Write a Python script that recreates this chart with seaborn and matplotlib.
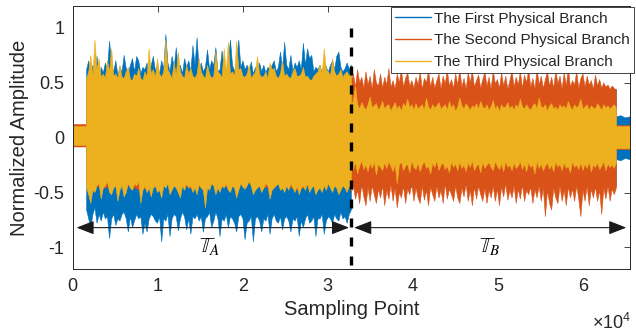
import numpy as np
import pandas as pd
import matplotlib
matplotlib.use("Agg")
import matplotlib.pyplot as plt
import seaborn as sns
from matplotlib.lines import Line2D

# ---------------------------------------------------------------------------
# Data: sample indices that delimit the four regimes of the recording
# (idle lead-in, interval T_A, interval T_B, idle tail)
segment_edges = [0, 1640, 32768, 63930, 65536]

branch_names = ["The First Physical Branch",
                "The Second Physical Branch",
                "The Third Physical Branch"]

# Upper / lower amplitude envelopes of every branch, one list per regime
# --- first branch
b1_hi_lead = [0.07, 0.08, 0.07]
b1_lo_lead = [-0.06, -0.07, -0.06]
b1_hi_a = [0.62, 0.70, 0.58, 0.66, 0.60, 0.74, 0.56, 0.64, 0.59, 0.68, 0.62, 0.88, 0.66, 0.60, 0.70, 0.57,
           0.64, 0.60, 0.75, 0.63, 0.58, 0.66, 0.72, 0.60, 0.74, 0.70, 0.58, 0.64, 0.62, 0.68, 0.60, 0.66,
           0.74, 0.61, 0.66, 0.58, 0.70, 0.63, 0.94, 0.68, 0.60, 0.74, 0.64, 0.82, 0.62, 0.66, 0.58, 0.72,
           0.64, 0.70, 0.60, 0.84, 0.66, 0.91, 0.62, 0.68, 0.60, 0.64, 0.80, 0.62, 0.70, 0.66, 0.82, 0.60,
           0.62, 0.79, 0.64, 0.60, 0.70, 0.89, 0.66, 0.60, 0.72, 0.89, 0.64, 0.70, 0.62, 0.66, 0.60, 0.69,
           0.58, 0.64, 0.62, 0.68, 0.60, 0.66, 0.59, 0.64, 0.62, 0.66, 0.70, 0.60, 0.64, 0.78, 0.62, 0.87,
           0.66, 0.62, 0.75, 0.60, 0.68, 0.64, 0.70, 0.62, 0.86, 0.66, 0.81, 0.72, 0.75, 0.60, 0.64, 0.62,
           0.66, 0.58, 0.69, 0.64, 0.60, 0.66, 0.70, 0.62, 0.74, 0.78, 0.64, 0.60, 0.63, 0.68, 0.62, 0.66]
b1_lo_a = [-0.66, -0.74, -0.82, -0.70, -0.64, -0.78, -0.70, -0.76, -0.68, -0.74, -0.72, -0.92, -0.74, -0.70, -0.80, -0.74,
           -0.76, -0.70, -0.68, -0.74, -0.86, -0.72, -0.82, -0.76, -0.70, -0.74, -0.72, -0.88, -0.78, -0.86, -0.74, -0.70,
           -0.72, -0.76, -0.78, -0.72, -0.95, -0.74, -0.76, -0.70, -0.90, -0.74, -0.70, -0.72, -0.85, -0.74, -0.68, -0.72,
           -0.84, -0.74, -0.88, -0.72, -0.74, -0.70, -0.76, -0.72, -0.86, -0.74, -0.72, -0.68, -0.82, -0.76, -0.68, -0.74,
           -0.90, -0.74, -0.76, -0.70, -0.82, -0.72, -0.74, -0.78, -0.86, -0.72, -0.70, -0.74, -0.93, -0.78, -0.76, -0.72,
           -0.95, -0.74, -0.72, -0.76, -0.86, -0.74, -0.76, -0.70, -0.88, -0.74, -0.70, -0.76, -0.78, -0.72, -0.84, -0.74,
           -0.72, -0.76, -0.86, -0.74, -0.76, -0.72, -0.90, -0.76, -0.82, -0.74, -0.70, -0.78, -0.76, -0.72, -0.90, -0.74,
           -0.74, -0.70, -0.88, -0.76, -0.72, -0.74, -0.78, -0.70, -0.74, -0.76, -0.68, -0.74, -0.72, -0.78, -0.70, -0.66]
b1_hi_b = [0.42, 0.44, 0.40, 0.43, 0.41, 0.45, 0.40, 0.44, 0.42, 0.43, 0.40, 0.45,
           0.41, 0.43, 0.42, 0.44]
b1_lo_b = [-0.44, -0.46, -0.42, -0.47, -0.43, -0.45, -0.41, -0.46, -0.44, -0.42, -0.47, -0.43,
           -0.45, -0.42, -0.46, -0.44]
b1_hi_tail = [0.19, 0.20, 0.18, 0.19]
b1_lo_tail = [-0.20, -0.21, -0.19, -0.20]

# --- second branch
b2_hi_lead = [0.12, 0.12, 0.12]
b2_lo_lead = [-0.085, -0.085, -0.085]
b2_hi_a = [0.50, 0.46, 0.55, 0.48, 0.52, 0.47, 0.56, 0.49, 0.53, 0.46, 0.54, 0.48,
           0.51, 0.47, 0.55, 0.50]
b2_lo_a = [-0.42, -0.46, -0.40, -0.48, -0.43, -0.38, -0.47, -0.41, -0.45, -0.39, -0.46, -0.42,
           -0.48, -0.40, -0.44, -0.41]
b2_hi_b = [0.52, 0.58, 0.46, 0.62, 0.50, 0.55, 0.45, 0.60, 0.48, 0.56, 0.44, 0.62, 0.50, 0.47, 0.58, 0.45,
           0.55, 0.48, 0.63, 0.46, 0.52, 0.44, 0.58, 0.50, 0.62, 0.46, 0.54, 0.59, 0.47, 0.52, 0.45, 0.55,
           0.48, 0.60, 0.44, 0.54, 0.50, 0.61, 0.46, 0.55, 0.45, 0.52, 0.58, 0.44, 0.56, 0.49, 0.61, 0.47,
           0.53, 0.45, 0.58, 0.48, 0.62, 0.46, 0.54, 0.44, 0.59, 0.50, 0.61, 0.46, 0.52, 0.57, 0.45, 0.53,
           0.60, 0.47, 0.55, 0.44, 0.61, 0.49, 0.53, 0.45, 0.59, 0.47, 0.56, 0.44, 0.52, 0.61, 0.46, 0.55,
           0.48, 0.60, 0.45, 0.57, 0.50, 0.62, 0.46, 0.54, 0.44, 0.63, 0.48, 0.56, 0.45, 0.53, 0.60, 0.47,
           0.55, 0.45, 0.61, 0.49, 0.56, 0.44, 0.59, 0.47, 0.63, 0.46, 0.52, 0.48, 0.60, 0.45, 0.54, 0.58,
           0.46, 0.56, 0.48, 0.52, 0.44, 0.57, 0.47, 0.53, 0.45, 0.50, 0.46, 0.48, 0.44, 0.47, 0.45, 0.43]
b2_lo_b = [-0.50, -0.44, -0.56, -0.48, -0.60, -0.42, -0.54, -0.62, -0.46, -0.58, -0.44, -0.52, -0.60, -0.47, -0.55, -0.44,
           -0.62, -0.48, -0.56, -0.43, -0.58, -0.46, -0.64, -0.50, -0.55, -0.44, -0.60, -0.47, -0.52, -0.42, -0.58, -0.46,
           -0.55, -0.60, -0.44, -0.57, -0.48, -0.62, -0.45, -0.52, -0.58, -0.44, -0.55, -0.48, -0.60, -0.42, -0.56, -0.47,
           -0.52, -0.58, -0.44, -0.55, -0.60, -0.46, -0.54, -0.42, -0.58, -0.48, -0.62, -0.45, -0.56, -0.44, -0.52, -0.58,
           -0.46, -0.60, -0.48, -0.55, -0.44, -0.58, -0.47, -0.62, -0.45, -0.54, -0.42, -0.57, -0.48, -0.55, -0.44, -0.60,
           -0.47, -0.56, -0.43, -0.58, -0.48, -0.52, -0.45, -0.60, -0.47, -0.55, -0.44, -0.58, -0.46, -0.72, -0.48, -0.60,
           -0.66, -0.46, -0.55, -0.60, -0.44, -0.58, -0.48, -0.62, -0.45, -0.55, -0.47, -0.58, -0.44, -0.56, -0.72, -0.48,
           -0.58, -0.44, -0.62, -0.47, -0.55, -0.45, -0.58, -0.48, -0.70, -0.46, -0.56, -0.44, -0.58, -0.47, -0.52, -0.46]
b2_hi_tail = [0.11, 0.11, 0.11, 0.11]
b2_lo_tail = [-0.11, -0.11, -0.11, -0.11]

# --- third branch
b3_hi_lead = [0.10, 0.10, 0.10]
b3_lo_lead = [-0.07, -0.07, -0.07]
b3_hi_a = [0.54, 0.60, 0.75, 0.56, 0.89, 0.62, 0.72, 0.55, 0.58, 0.54, 0.70, 0.60, 0.81, 0.56, 0.58, 0.54,
           0.66, 0.55, 0.54, 0.60, 0.64, 0.53, 0.52, 0.58, 0.56, 0.63, 0.54, 0.52, 0.60, 0.56, 0.81, 0.58,
           0.62, 0.55, 0.72, 0.58, 0.55, 0.60, 0.89, 0.62, 0.58, 0.54, 0.68, 0.57, 0.78, 0.60, 0.56, 0.54,
           0.66, 0.58, 0.63, 0.56, 0.54, 0.58, 0.72, 0.60, 0.56, 0.54, 0.66, 0.58, 0.54, 0.56, 0.78, 0.60,
           0.58, 0.55, 0.81, 0.60, 0.87, 0.58, 0.60, 0.56, 0.88, 0.62, 0.63, 0.56, 0.55, 0.58, 0.66, 0.54,
           0.57, 0.60, 0.74, 0.58, 0.55, 0.56, 0.60, 0.54, 0.68, 0.62, 0.63, 0.56, 0.54, 0.58, 0.70, 0.56,
           0.58, 0.55, 0.54, 0.60, 0.63, 0.56, 0.56, 0.58, 0.64, 0.55, 0.56, 0.53, 0.52, 0.56, 0.58, 0.60,
           0.66, 0.58, 0.81, 0.62, 0.60, 0.56, 0.72, 0.60, 0.56, 0.58, 0.62, 0.55, 0.58, 0.60, 0.56, 0.62]
b3_lo_a = [-0.46, -0.52, -0.60, -0.48, -0.50, -0.44, -0.42, -0.56, -0.46, -0.44, -0.40, -0.50, -0.52, -0.46, -0.44, -0.58,
           -0.48, -0.44, -0.54, -0.50, -0.42, -0.46, -0.48, -0.42, -0.44, -0.40, -0.60, -0.48, -0.44, -0.50, -0.46, -0.54,
           -0.46, -0.44, -0.50, -0.48, -0.55, -0.44, -0.46, -0.42, -0.52, -0.48, -0.44, -0.46, -0.50, -0.55, -0.44, -0.48,
           -0.42, -0.46, -0.44, -0.50, -0.46, -0.52, -0.43, -0.46, -0.48, -0.64, -0.46, -0.48, -0.42, -0.44, -0.52, -0.46,
           -0.50, -0.44, -0.46, -0.42, -0.48, -0.50, -0.44, -0.46, -0.55, -0.48, -0.42, -0.45, -0.47, -0.44, -0.40, -0.44,
           -0.52, -0.48, -0.46, -0.44, -0.50, -0.46, -0.42, -0.44, -0.56, -0.48, -0.46, -0.44, -0.42, -0.48, -0.46, -0.50,
           -0.44, -0.48, -0.42, -0.46, -0.50, -0.44, -0.52, -0.46, -0.44, -0.48, -0.42, -0.50, -0.46, -0.44, -0.52, -0.48,
           -0.46, -0.50, -0.44, -0.48, -0.42, -0.46, -0.50, -0.44, -0.46, -0.52, -0.48, -0.44, -0.46, -0.50, -0.44, -0.48]
b3_hi_b = [0.28, 0.34, 0.47, 0.30, 0.26, 0.32, 0.28, 0.25, 0.30, 0.37, 0.27, 0.29, 0.31, 0.25, 0.28, 0.33,
           0.26, 0.29, 0.30, 0.24, 0.28, 0.32, 0.26, 0.29, 0.24, 0.31, 0.28, 0.35, 0.27, 0.30, 0.25, 0.31,
           0.26, 0.28, 0.30, 0.25, 0.36, 0.28, 0.25, 0.30, 0.27, 0.29, 0.32, 0.26, 0.28, 0.30, 0.25, 0.33,
           0.27, 0.30, 0.24, 0.28, 0.36, 0.29, 0.26, 0.31, 0.28, 0.25, 0.29, 0.27, 0.31, 0.26, 0.33, 0.28,
           0.26, 0.30, 0.25, 0.28, 0.34, 0.26, 0.29, 0.24, 0.30, 0.27, 0.28, 0.32, 0.26, 0.29, 0.25, 0.30,
           0.27, 0.35, 0.28, 0.26, 0.30, 0.27, 0.25, 0.29, 0.31, 0.26, 0.36, 0.28, 0.27, 0.30, 0.24, 0.29,
           0.31, 0.26, 0.28, 0.25, 0.30, 0.27, 0.29, 0.26, 0.33, 0.28, 0.25, 0.30, 0.27, 0.29, 0.35, 0.26,
           0.28, 0.30, 0.25, 0.29, 0.27, 0.26, 0.31, 0.28, 0.25, 0.30, 0.27, 0.29, 0.26, 0.28, 0.30, 0.27]
b3_lo_b = [-0.24, -0.30, -0.22, -0.33, -0.26, -0.21, -0.29, -0.25, -0.31, -0.23, -0.28, -0.22, -0.34, -0.24, -0.27, -0.30,
           -0.23, -0.28, -0.22, -0.26, -0.31, -0.24, -0.42, -0.25, -0.22, -0.30, -0.26, -0.24, -0.32, -0.21, -0.27, -0.29,
           -0.23, -0.31, -0.25, -0.22, -0.28, -0.26, -0.33, -0.23, -0.27, -0.21, -0.30, -0.25, -0.23, -0.29, -0.26, -0.32,
           -0.22, -0.27, -0.24, -0.30, -0.22, -0.28, -0.25, -0.31, -0.23, -0.27, -0.21, -0.30, -0.26, -0.24, -0.32, -0.22,
           -0.28, -0.25, -0.23, -0.27, -0.30, -0.22, -0.26, -0.29, -0.24, -0.31, -0.22, -0.27, -0.25, -0.30, -0.23, -0.28,
           -0.26, -0.22, -0.29, -0.24, -0.31, -0.23, -0.27, -0.25, -0.33, -0.22, -0.28, -0.24, -0.30, -0.26, -0.23, -0.29,
           -0.25, -0.31, -0.22, -0.27, -0.24, -0.30, -0.23, -0.28, -0.26, -0.32, -0.22, -0.27, -0.25, -0.29, -0.23, -0.30,
           -0.24, -0.28, -0.22, -0.31, -0.25, -0.27, -0.23, -0.29, -0.26, -0.22, -0.30, -0.24, -0.27, -0.25, -0.28, -0.23]
b3_hi_tail = [0.10, 0.10, 0.10, 0.10]
b3_lo_tail = [-0.10, -0.10, -0.10, -0.10]

# interval boundaries used by the annotation arrows / labels
split_point = 32768
arrow_level = -0.82

# ---------------------------------------------------------------------------
sns.set_theme(style="white")
plt.rcParams["font.family"] = ["Liberation Sans", "DejaVu Sans"]
plt.rcParams["mathtext.fontset"] = "custom"
plt.rcParams["mathtext.rm"] = "Liberation Sans"
plt.rcParams["mathtext.it"] = "Liberation Sans:italic"

palette = ["#0072BD", "#D95319", "#EDB120"]
ink = "#262626"

envelopes = [
    ([b1_hi_lead, b1_hi_a, b1_hi_b, b1_hi_tail], [b1_lo_lead, b1_lo_a, b1_lo_b, b1_lo_tail]),
    ([b2_hi_lead, b2_hi_a, b2_hi_b, b2_hi_tail], [b2_lo_lead, b2_lo_a, b2_lo_b, b2_lo_tail]),
    ([b3_hi_lead, b3_hi_a, b3_hi_b, b3_hi_tail], [b3_lo_lead, b3_lo_a, b3_lo_b, b3_lo_tail]),
]


def trace(pieces):
    """Spread each regime's envelope values evenly over that regime."""
    xs, ys = [], []
    for a, b, vals in zip(segment_edges[:-1], segment_edges[1:], pieces):
        xs.append(np.linspace(a, b, len(vals)))
        ys.append(np.asarray(vals, dtype=float))
    return np.concatenate(xs), np.concatenate(ys)


fig = plt.figure(figsize=(6.36, 3.36), dpi=100)
ax = fig.add_axes([0.1143, 0.1985, 0.8763, 0.7836])

for i, ((hi, lo), color) in enumerate(zip(envelopes, palette)):
    z = 2 + i
    xh, yh = trace(hi)
    xl, yl = trace(lo)
    ax.fill(np.r_[xh, xl[::-1]], np.r_[yh, yl[::-1]], color=color, lw=0, zorder=z)
    for xx, yy in ((xh, yh), (xl, yl)):
        frame = pd.DataFrame({"x": xx, "y": yy})
        sns.lineplot(data=frame, x="x", y="y", color=color, lw=0.4,
                     estimator=None, sort=False, ax=ax, zorder=z)

# boundary between the two intervals
ax.plot([split_point, split_point], [1.0, -1.2], color="black", lw=2.4,
        ls=(0, (2.7, 3.0)), zorder=6, solid_capstyle="butt", dash_capstyle="butt")

# interval arrows
arrow_kw = dict(arrowstyle="<|-|>,head_length=0.9,head_width=0.35",
                color="#1a1a1a", lw=0.8, shrinkA=0, shrinkB=0, mutation_scale=12)
ax.annotate("", xy=(450, arrow_level), xytext=(32500, arrow_level),
            arrowprops=arrow_kw, zorder=7)
ax.annotate("", xy=(33100, arrow_level), xytext=(65100, arrow_level),
            arrowprops=arrow_kw, zorder=7)
ax.text(14900, -1.04, r"$\mathbb{T}_A$", ha="left", va="baseline",
        fontsize=15.5, math_fontfamily="stix", color="black", zorder=7)
ax.text(47750, -1.04, r"$\mathbb{T}_B$", ha="left", va="baseline",
        fontsize=15.5, math_fontfamily="stix", color="black", zorder=7)

# axes styling
ax.set_xlim(0, 65536)
ax.set_ylim(-1.2, 1.2)
ax.set_xticks(np.arange(0, 7) * 1e4)
ax.set_xticklabels([str(k) for k in range(7)])
ax.set_yticks([-1, -0.5, 0, 0.5, 1])
ax.set_yticklabels(["-1", "-0.5", "0", "0.5", "1"])
ax.tick_params(direction="in", length=4, width=0.6, top=True, right=True,
               colors=ink, labelsize=13, pad=6)
for sp in ax.spines.values():
    sp.set_color(ink)
    sp.set_linewidth(0.7)
    sp.set_zorder(8)

ax.set_xlabel("Sampling Point", fontsize=14.5, color=ink, labelpad=4)
ax.set_ylabel("Normalized Amplitude", fontsize=14.5, color=ink, labelpad=3)
fig.text(0.992, 0.022, r"$\times10^{4}$", ha="right", va="baseline",
         fontsize=13, color=ink)

handles = [Line2D([0], [0], color=c, lw=1.0) for c in palette]
leg = ax.legend(handles, branch_names, loc="upper right",
                bbox_to_anchor=(634 / 636, 1 - 7 / 336), bbox_transform=fig.transFigure,
                borderaxespad=0, fontsize=11, frameon=True, fancybox=False,
                framealpha=1, edgecolor=ink, handlelength=2.3, handletextpad=0.2,
                borderpad=0.3, labelspacing=0.5)
leg.get_frame().set_linewidth(0.6)
leg.set_zorder(10)

fig.savefig("out.png", dpi=100)
